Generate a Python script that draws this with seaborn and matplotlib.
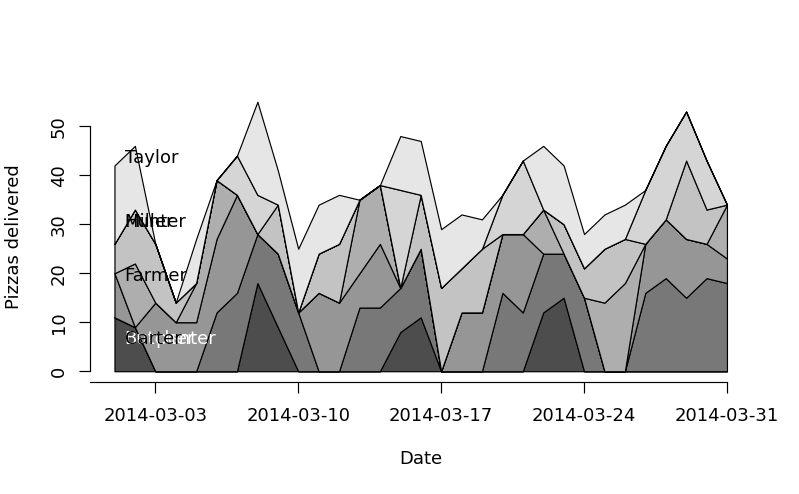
import numpy as np
import pandas as pd
import matplotlib
matplotlib.use("Agg")
import matplotlib.pyplot as plt
import matplotlib.dates as mdates
import seaborn as sns

# pizzas delivered per driver and day, March 2014
dates = pd.date_range("2014-03-01", "2014-03-31", freq="D")
drivers = ["Butcher", "Carpenter", "Carter", "Farmer", "Hunter", "Miller", "Taylor"]
butcher   = [11, 9, 0, 0, 0, 0, 0, 18, 9, 0, 0, 0, 0, 0, 8, 11, 0, 0, 0, 0, 0, 12, 15, 0, 0, 0, 0, 0, 0, 0, 0]
carpenter = [0, 0, 0, 0, 0, 12, 16, 10, 15, 12, 0, 0, 13, 13, 9, 14, 0, 0, 0, 16, 12, 12, 9, 15, 0, 0, 16, 19, 15, 19, 18]
carter    = [9, 0, 14, 10, 10, 15, 20, 0, 0, 0, 16, 14, 7, 13, 0, 0, 0, 12, 12, 12, 16, 0, 0, 0, 0, 0, 10, 12, 12, 7, 5]
farmer    = [0, 13, 0, 0, 8, 12, 0, 0, 0, 0, 0, 0, 15, 12, 0, 0, 0, 0, 0, 0, 0, 9, 0, 0, 14, 18, 0, 0, 0, 0, 11]
hunter    = [6, 11, 12, 4, 0, 0, 0, 0, 10, 0, 8, 12, 0, 0, 0, 11, 17, 9, 13, 0, 0, 0, 6, 6, 11, 9, 0, 0, 16, 7, 0]
miller    = [0, 0, 0, 0, 0, 0, 8, 8, 0, 0, 0, 0, 0, 0, 20, 0, 0, 0, 0, 8, 15, 0, 0, 0, 0, 0, 11, 15, 10, 10, 0]
taylor    = [16, 13, 0, 0, 9, 0, 0, 19, 7, 13, 10, 10, 0, 0, 11, 11, 12, 11, 6, 0, 0, 13, 12, 7, 7, 7, 0, 0, 0, 0, 0]
xticks = pd.to_datetime(["2014-02-24", "2014-03-03", "2014-03-10", "2014-03-17", "2014-03-24", "2014-03-31"])
yticks = [0, 10, 20, 30, 40, 50]
label_colors = ["white", "white", "black", "black", "black", "black", "black"]

sns.set_style("ticks")
plt.rcParams["font.family"] = ["DejaVu Sans"]
plt.rcParams["font.size"] = 13
for k in ["text.color", "axes.labelcolor", "xtick.color", "ytick.color", "axes.edgecolor"]:
    plt.rcParams[k] = "black"

tab = pd.DataFrame({"Butcher": butcher, "Carpenter": carpenter, "Carter": carter,
                    "Farmer": farmer, "Hunter": hunter, "Miller": miller,
                    "Taylor": taylor}, index=dates)
cum = tab.cumsum(axis=1)
lower = cum.shift(1, axis=1).fillna(0)

# gray.colors(7) as in R
grays = np.linspace(0.3 ** 2.2, 0.9 ** 2.2, len(drivers)) ** (1 / 2.2)

fig = plt.figure(figsize=(7.99, 4.94), dpi=100)
ax = fig.add_axes([0.1126, 0.2267, 0.8279, 0.5891])

x = mdates.date2num(dates)
for i, d in enumerate(drivers):
    ax.fill_between(x, lower[d].values, cum[d].values, facecolor=str(grays[i]),
                    edgecolor="black", linewidth=0.85, zorder=2)

# labels at day 2, like the DescTools example
for i, d in enumerate(drivers):
    ax.text(x[0] + 0.5, cum[d].iloc[1] - 2.5, d, ha="left", va="center",
            color=label_colors[i], fontsize=13, zorder=3)

xr = x[-1] - x[0]
ymax = cum.iloc[:, -1].max()
ax.set_xlim(x[0] - 0.04 * xr, x[-1] + 0.04 * xr)
ax.set_ylim(-0.04 * ymax, 1.04 * ymax)

sns.despine(ax=ax)
ax.spines["left"].set_bounds(yticks[0], yticks[-1])
ax.spines["bottom"].set_bounds(ax.get_xlim()[0], x[-1])
ax.spines["left"].set_linewidth(0.85)
ax.spines["bottom"].set_linewidth(0.85)

xt = [t for t in mdates.date2num(xticks) if t >= ax.get_xlim()[0]]
ax.set_xticks(xt)
ax.set_xticklabels([mdates.num2date(t).strftime("%Y-%m-%d") for t in xt])
ax.set_yticks(yticks)
ax.set_yticklabels([str(v) for v in yticks], rotation=90, va="center")
ax.tick_params(length=7.8, width=0.85, labelsize=13, direction="out")
ax.tick_params(axis="x", pad=10)
ax.tick_params(axis="y", pad=8)

ax.set_xlabel("Date", fontsize=13)
ax.set_ylabel("Pizzas delivered", fontsize=13)
ax.xaxis.set_label_coords(0.5, -77 / 291)
ax.xaxis.label.set_va("center")
ax.yaxis.set_label_coords(-76 / 661.5, 0.5)
ax.yaxis.label.set_va("center")
ax.grid(False)

fig.savefig("out.png", dpi=100)
